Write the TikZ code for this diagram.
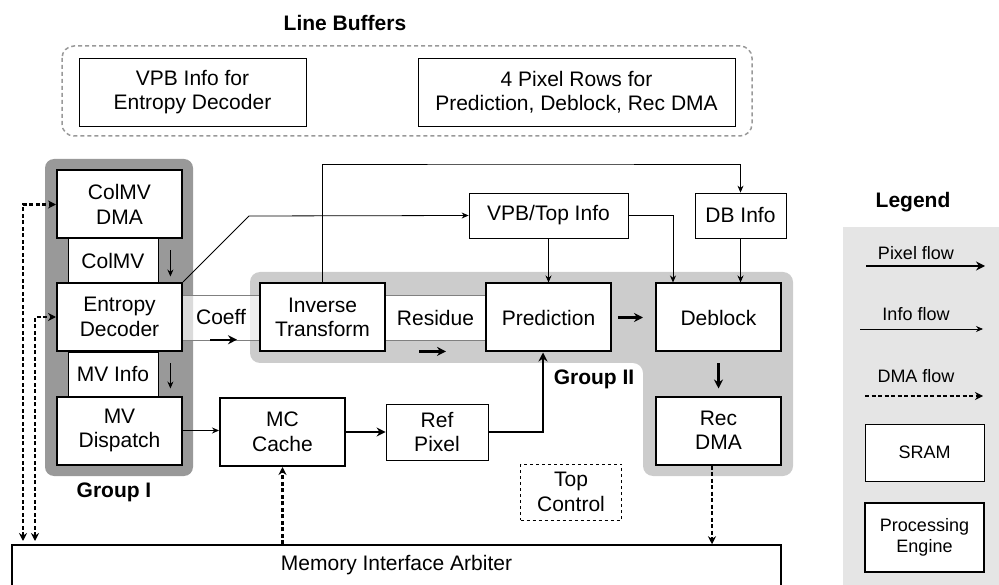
\documentclass[tikz,border=0pt]{standalone}
\usepackage{fontspec}
\setmainfont{Liberation Sans}
\usepackage{tikz}
\usetikzlibrary{arrows.meta}
\definecolor{groupone}{gray}{0.6}
\definecolor{grouptwo}{gray}{0.8}
\definecolor{legendbg}{gray}{0.9}
\definecolor{bufline}{gray}{0.6}
\tikzstyle{pe} = [draw, line width=2pt, fill=white, minimum width=125pt, minimum height=68pt, align=center, inner sep=0pt]
\tikzstyle{sram} = [draw, line width=0.8pt, fill=white, align=center, inner sep=0pt]
\tikzstyle{info} = [line width=0.8pt, -{Stealth[length=7pt,width=6pt]}]
\tikzstyle{pixel} = [line width=2.4pt, -{Stealth[length=9pt,width=9pt]}]
\tikzstyle{dma} = [line width=2.2pt, dash pattern=on 4pt off 2.5pt, -{Stealth[length=8pt,width=8pt]}]
\tikzset{grplabel/.style={font=\fontsize{21}{24.5}\selectfont\bfseries}}

\begin{document}
\begin{tikzpicture}[x=1pt, y=-1pt, font=\fontsize{21}{24.5}\selectfont]
\useasboundingbox (0,0) rectangle (999,585);

% backgrounds
\fill[groupone, rounded corners=9pt] (45,159) rectangle (193,476);
\fill[grouptwo, rounded corners=10pt] (250,272) -- (793,272) -- (793,476) -- (643,476) -- (643,363) -- (250,363) -- cycle;
\fill[legendbg] (843,227) rectangle (1000,586);
\draw[bufline, line width=1.5pt, dash pattern=on 4pt off 3pt, rounded corners=12pt] (62,46) rectangle (752,136);

% line buffers
\node[grplabel] (lbtitle) at (345,23) {Line Buffers};
\node[sram, minimum width=227pt, minimum height=68pt] (vpbinfo) at (192.5,92) {VPB Info for\\Entropy Decoder};
\node[sram, minimum width=317pt, minimum height=68pt] (pixrows) at (576.5,92) {4 Pixel Rows for\\Prediction, Deblock, Rec DMA};

% pipeline buffers between engines
\fill[white, opacity=0.65] (182,295) rectangle (260,340);
\draw[gray, line width=0.8pt] (182,295) -- (260,295) (182,340) -- (260,340);
\node (coeff) at (221,317.5) {Coeff};
\node[sram, minimum width=101pt, minimum height=45pt, draw=gray] (residue) at (435.5,317.5) {Residue};
\node[sram, minimum width=90pt, minimum height=45pt] (colmv) at (113,260.5) {ColMV};
\node[sram, minimum width=90pt, minimum height=45pt] (mvinfo) at (113,374.5) {MV Info};

% processing engines
\node[pe] (colmvdma) at (119.5,204.5) {ColMV\\DMA};
\node[pe] (entropy) at (119.5,317) {Entropy\\Decoder};
\node[pe] (mvdisp) at (119.5,430.5) {MV\\Dispatch};
\node[pe] (invtr) at (322.5,317.5) {Inverse\\Transform};
\node[pe] (pred) at (548.5,317.5) {Prediction};
\node[pe] (deblock) at (718.5,317.5) {Deblock};
\node[pe] (recdma) at (718.5,430.5) {Rec\\DMA};
\node[pe] (mccache) at (282.5,432) {MC\\Cache};

% sram
\node[sram, minimum width=159pt, minimum height=45pt] (vpbtop) at (548.5,215.5) {VPB/Top Info};
\node[sram, minimum width=91pt, minimum height=45pt] (dbinfo) at (740.5,215.5) {DB Info};
\node[sram, minimum width=102pt, minimum height=56pt] (refpix) at (437,432) {Ref\\Pixel};
\node[draw, dashed, line width=0.6pt, minimum width=101pt, minimum height=56pt, align=center, inner sep=0pt] (topctrl) at (571,492) {Top\\Control};
\node[draw, line width=1.5pt, fill=white, minimum width=769pt, minimum height=44pt, inner sep=0pt] (mem) at (396.5,567) {};
\node (memtext) at (396.5,565) {Memory Interface Arbiter};

\node[grplabel] (grpone) at (114,492) {Group I};
\node[grplabel] (grptwo) at (594,379) {Group II};

% info flow
\coordinate (bend) at (249,216);
\coordinate (infotop) at (530,164);
\draw[info] (entropy.north east) -- (bend) -- (vpbtop.west);
\draw[info] (invtr.north) |- (infotop) -| (dbinfo.north);
\draw[info] (vpbtop.south) -- (pred.north);
\draw[info] (vpbtop.east) -| ([xshift=-45.5pt]deblock.north);
\draw[info] (dbinfo.south) -- (dbinfo.south |- deblock.north);
\draw[info] (mvdisp.east) -- (mvdisp.east -| mccache.west);
\draw[info] ([xshift=12pt,yshift=10pt]colmv.east) -- ++(0,26);
\draw[info] ([xshift=12pt,yshift=11pt]mvinfo.east) -- ++(0,25);

% pixel flow
\draw[pixel] ([xshift=-11pt,yshift=-11pt]coeff.south) -- ++(27,0);
\draw[pixel] ([xshift=-16.5pt,yshift=-11pt]residue.south) -- ++(27,0);
\draw[pixel] ([xshift=6pt]pred.east) -- ([xshift=-12pt]deblock.west);
\draw[pixel] ([yshift=-11pt]deblock.south) -- ([yshift=7pt]recdma.north);
\draw[pixel] (mccache.east) -- (refpix.west);
\draw[pixel] (refpix.east) -| ([xshift=-5.5pt]pred.south);

% dma flow
\coordinate (dmaa) at (23,541);
\coordinate (dmab) at (35,541);
\draw[dma, {Stealth[length=8pt,width=8pt]}-{Stealth[length=8pt,width=8pt]}] (dmaa) |- (colmvdma.west);
\draw[dma, {Stealth[length=8pt,width=8pt]}-{Stealth[length=8pt,width=8pt]}] (dmab) |- (entropy.west);
\draw[dma] ([xshift=-6.5pt]recdma.south) -- ([xshift=-6.5pt]recdma.south |- mem.north);
\draw[dma] (mem.north -| mccache.south) -- (mccache.south);

% legend
\node[grplabel] (legtitle) at (913,202) {Legend};
\node[font=\fontsize{18}{21}\selectfont] (legpix) at (916,253) {Pixel flow};
\node[font=\fontsize{18}{21}\selectfont] (leginfo) at (916,314) {Info flow};
\node[font=\fontsize{18}{21}\selectfont] (legdma) at (916,376) {DMA flow};
\coordinate (pixa) at (866,266);
\coordinate (pixb) at (985,266);
\coordinate (infoa) at (860,329);
\coordinate (infob) at (983,329);
\coordinate (dmac) at (865,396);
\coordinate (dmad) at (983,396);
\draw[pixel] (pixa) -- (pixb);
\draw[info] (infoa) -- (infob);
\draw[dma] (dmac) -- (dmad);
\node[sram, minimum width=119pt, minimum height=57pt, font=\fontsize{18}{21}\selectfont] (legsram) at (924.5,452.5) {SRAM};
\node[pe, minimum width=119pt, minimum height=69pt, font=\fontsize{18}{21}\selectfont] (legpe) at (924.5,537.5) {Processing\\Engine};
\end{tikzpicture}
\end{document}
